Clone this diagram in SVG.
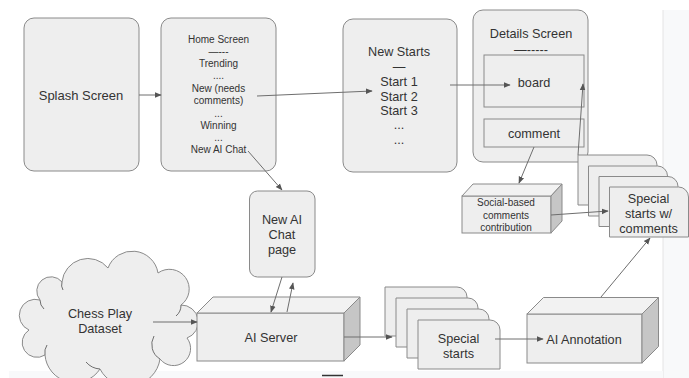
<svg xmlns="http://www.w3.org/2000/svg" width="689" height="378" viewBox="0 0 689 378">
<defs>
<style>
.box{fill:#eeeeee;stroke:#8a8a8a;stroke-width:1}
.top{fill:#f2f2f2;stroke:#8a8a8a;stroke-width:1;stroke-linejoin:round}
.side{fill:#c6c6c6;stroke:#8a8a8a;stroke-width:1;stroke-linejoin:round}
.t{font-family:"Liberation Sans",Arial,sans-serif;fill:#333333;text-anchor:middle}
.s10{font-size:10px}
.s12{font-size:12.7px}
.s13{font-size:13px}
.c{fill:none;stroke:#6e6e6e;stroke-width:1}
.ca{fill:none;stroke:#6e6e6e;stroke-width:1;marker-end:url(#ah)}
</style>
<marker id="ah" viewBox="0 0 10 10" refX="9" refY="5" markerWidth="7" markerHeight="7" markerUnits="userSpaceOnUse" orient="auto">
<path d="M0,1 L10,5 L0,9 z" fill="#555555"/>
</marker>
</defs>
<rect x="0" y="0" width="689" height="378" fill="#ffffff"/>
<rect x="663" y="10" width="26" height="368" fill="#f8f9fa"/>
<line x1="663" y1="10" x2="663" y2="378" stroke="#e4e4e4" stroke-width="1"/>
<rect x="9" y="371" width="654" height="7" fill="#f8f9fa"/>

<g id="splash">
<rect class="box" x="24" y="18" width="115" height="153" rx="10"/>
<text class="t s13" x="81" y="99.5">Splash Screen</text>
</g>

<g id="home">
<rect class="box" x="161" y="18" width="115" height="153" rx="10"/>
<text class="t s10" x="218.5" y="43">Home Screen</text>
<text class="t s10" x="218.5" y="55">—---</text>
<text class="t s10" x="218.5" y="67">Trending</text>
<text class="t s10" x="218.5" y="78.7">....</text>
<text class="t s10" x="218.5" y="92">New (needs</text>
<text class="t s10" x="218.5" y="104">comments)</text>
<text class="t s10" x="218.5" y="116.5">...</text>
<text class="t s10" x="218.5" y="129">Winning</text>
<text class="t s10" x="218.5" y="140.5">...</text>
<text class="t s10" x="218.5" y="152.8">New AI Chat</text>
</g>

<g id="newstarts">
<rect class="box" x="343" y="19" width="114" height="153" rx="10"/>
<text class="t s12" x="399" y="56">New Starts</text>
<text class="t s12" x="399" y="71">—</text>
<text class="t s12" x="399" y="85.5">Start 1</text>
<text class="t s12" x="399" y="100.5">Start 2</text>
<text class="t s12" x="399" y="114.5">Start 3</text>
<text class="t s12" x="399" y="129">...</text>
<text class="t s12" x="399" y="144">...</text>
</g>

<g id="details">
<rect class="box" x="473" y="10" width="115" height="152" rx="10"/>
<text class="t s12" x="531" y="37.5">Details Screen</text>
<text class="t s12" x="531" y="54">—-----</text>
<g id="board">
<rect class="box" x="484" y="55" width="100" height="52"/>
<text class="t s12" x="534" y="86.5">board</text>
</g>
<g id="comment">
<rect class="box" x="484" y="119" width="100" height="28"/>
<text class="t s12" x="534" y="137.5">comment</text>
</g>
</g>

<g id="aichatpage">
<rect class="box" x="249.5" y="191" width="65.5" height="86" rx="8"/>
<text class="t s12" x="282" y="223.7">New AI</text>
<text class="t s12" x="282" y="238.7">Chat</text>
<text class="t s12" x="282" y="253.7">page</text>
</g>

<g id="social">
<rect class="box" x="462" y="196" width="89" height="37"/>
<polygon class="top" points="462,196 473,184 562,184 551,196"/>
<polygon class="side" points="551,196 562,184 562,221 551,233"/>
<text class="t s10" x="506" y="206.2">Social-based</text>
<text class="t s10" x="506" y="218.5">comments</text>
<text class="t s10" x="506" y="230.5">contribution</text>
</g>

<g id="specialcomments">
<path class="box" d="M578,155 h69 a10,10 0 0 1 10,10 v40 h-79 z"/>
<path class="box" d="M588.5,166 h69 a10,10 0 0 1 10,10 v40 h-79 z"/>
<path class="box" d="M599,176.5 h69 a10,10 0 0 1 10,10 v40 h-79 z"/>
<path class="box" d="M609.5,187 h69 a10,10 0 0 1 10,10 v40 h-79 z"/>
<text class="t s12" x="648.5" y="202.5">Special</text>
<text class="t s12" x="648.5" y="217.5">starts w/</text>
<text class="t s12" x="648.5" y="232.5">comments</text>
</g>

<g id="cloud">
<path class="box" d="M40,300 A14,14 0 0 1 62,282 A26,26 0 0 1 108,268 A26,26 0 0 1 158,273 A19,19 0 0 1 181,305 A17,17 0 0 1 187,338 A17,17 0 0 1 160,359 A32,32 0 0 1 100,369 A30,30 0 0 1 45,355 A14,14 0 0 1 29,330 A16,16 0 0 1 40,300 z"/>
<path class="c" d="M40,300 A12,12 0 0 0 44,309"/>
<path class="c" d="M62,282 A10,10 0 0 0 63,290"/>
<path class="c" d="M181,305 A14,14 0 0 1 176,316"/>
<path class="c" d="M160,359 A17,17 0 0 1 154,336"/>
<path class="c" d="M100,369 A20,20 0 0 1 86,362"/>
<path class="c" d="M45,355 A14,14 0 0 1 47,345"/>
<text class="t s12" x="100" y="317.8">Chess Play</text>
<text class="t s12" x="100" y="332.8">Dataset</text>
</g>

<g id="aiserver">
<rect class="box" x="197" y="313" width="147" height="48"/>
<polygon class="top" points="197,313 213,297 360,297 344,313"/>
<polygon class="side" points="344,313 360,297 360,345 344,361"/>
<text class="t s12" x="271" y="342">AI Server</text>
</g>

<g id="specialstarts">
<path class="box" d="M385,287 h72 a10,10 0 0 1 10,10 v39 h-82 z"/>
<path class="box" d="M396,298 h72 a10,10 0 0 1 10,10 v39 h-82 z"/>
<path class="box" d="M407,309 h72 a10,10 0 0 1 10,10 v39 h-82 z"/>
<path class="box" d="M418,320 h72 a10,10 0 0 1 10,10 v39 h-82 z"/>
<text class="t s12" x="458.5" y="343">Special</text>
<text class="t s12" x="458.5" y="357.5">starts</text>
</g>

<g id="aiannotation">
<rect class="box" x="527" y="314" width="115" height="49"/>
<polygon class="top" points="527,314 543.5,297.5 658.5,297.5 642,314"/>
<polygon class="side" points="642,314 658.5,297.5 658.5,346.5 642,363"/>
<text class="t s12" x="584" y="343.5">AI Annotation</text>
</g>

<g id="connectors">
<line class="ca" x1="139" y1="95" x2="161" y2="95"/>
<line class="ca" x1="257" y1="96" x2="372" y2="91"/>
<line class="ca" x1="248" y1="151" x2="282" y2="190"/>
<line class="ca" x1="450" y1="85" x2="510" y2="85"/>
<line class="ca" x1="534" y1="147" x2="519" y2="183"/>
<line class="ca" x1="578" y1="155" x2="583" y2="84"/>
<line class="ca" x1="551" y1="215" x2="608" y2="211"/>
<line class="ca" x1="282" y1="277" x2="271" y2="312"/>
<line class="ca" x1="287" y1="312" x2="293" y2="283"/>
<line class="ca" x1="153" y1="322" x2="197" y2="322"/>
<line class="ca" x1="344" y1="337" x2="392" y2="337"/>
<line class="ca" x1="495" y1="339" x2="543" y2="339"/>
<line class="ca" x1="601" y1="297" x2="650" y2="238"/>
</g>
<line x1="322" y1="375.5" x2="343" y2="375.5" stroke="#333333" stroke-width="1.5"/>
</svg>
